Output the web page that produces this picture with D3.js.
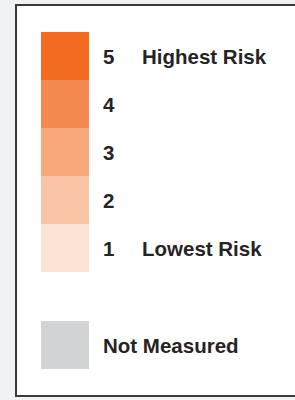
<!DOCTYPE html>
<html>
<head>
<meta charset="utf-8">
<script src="https://cdn.jsdelivr.net/npm/d3@7"></script>
<style>
  body { margin: 0; background: #f1f2f4; }
  text { font-family: "Liberation Sans", Arial, sans-serif; font-size: 20.5px; font-weight: bold; fill: #262324; }
</style>
</head>
<body>
<div id="legend"></div>
<script>
let canvasWidth = 295;
let canvasHeight = 400;

// legend data
let levels = [5, 4, 3, 2, 1];
let levelLabels = ["Highest Risk", "", "", "", "Lowest Risk"];
let levelColors = ["#f26b21", "#f58a51", "#f8a77b", "#fac4a6", "#fce2d5"];
let missingLabel = "Not Measured";
let missingColor = "#d1d3d4";

let svg = d3.select("div#legend")
    .append("svg")
    .attr("width", canvasWidth)
    .attr("height", canvasHeight);

// framed panel (right edge runs off the picture)
svg.append("rect")
    .attr("x", 16)
    .attr("y", 5)
    .attr("width", 300)
    .attr("height", 391)
    .attr("fill", "#ffffff")
    .attr("stroke", "#3a3a3a")
    .attr("stroke-width", 2);

let yScale = d3.scaleBand()
    .domain(levels)
    .range([32, 272])
    .padding(0);

let swatchX = 41;
let swatchW = 48;
let numX = 103;
let labelX = 142;

let rows = svg.append("g")
    .selectAll("g")
    .data(levels)
    .enter()
    .append("g")
    .attr("transform", d => "translate(0," + yScale(d) + ")");

rows.append("rect")
    .attr("x", swatchX)
    .attr("width", swatchW)
    .attr("height", yScale.bandwidth())
    .attr("fill", (d, i) => levelColors[i]);

rows.append("text")
    .attr("x", numX)
    .attr("y", yScale.bandwidth() / 2 + 8)
    .text(d => d);

rows.append("text")
    .attr("x", labelX)
    .attr("y", yScale.bandwidth() / 2 + 8)
    .text((d, i) => levelLabels[i]);

// not measured swatch
let missY = 321;
svg.append("rect")
    .attr("x", swatchX)
    .attr("y", missY)
    .attr("width", swatchW)
    .attr("height", yScale.bandwidth())
    .attr("fill", missingColor);

svg.append("text")
    .attr("x", numX)
    .attr("y", missY + yScale.bandwidth() / 2 + 8)
    .text(missingLabel);
</script>
</body>
</html>
